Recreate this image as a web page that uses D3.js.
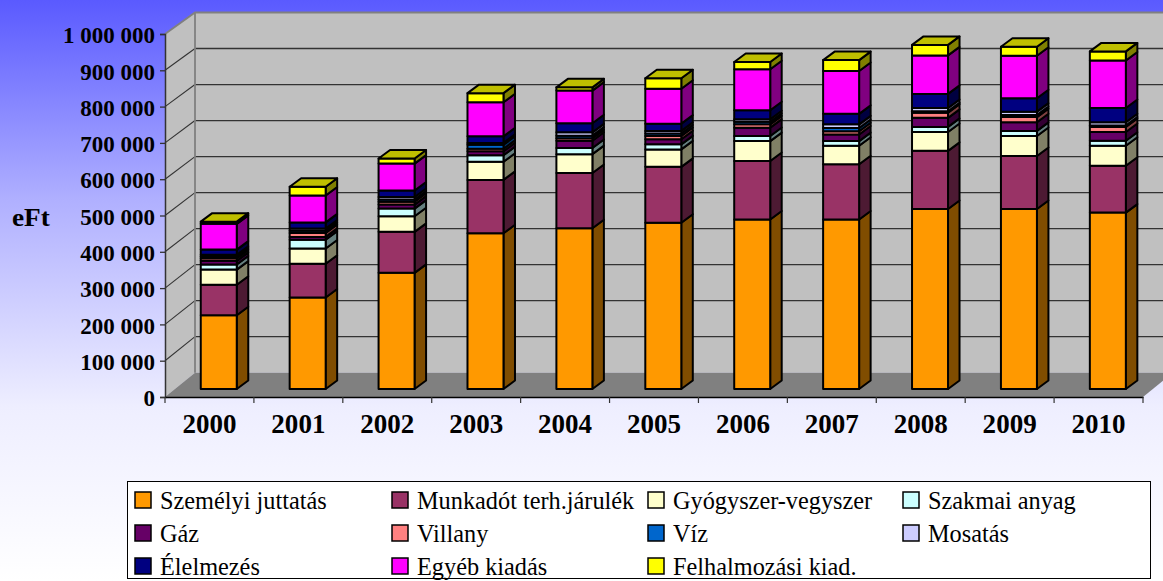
<!DOCTYPE html>
<html>
<head>
<meta charset="utf-8">
<script src="https://cdn.jsdelivr.net/npm/d3@7"></script>
<style>
  html, body { margin: 0; padding: 0; background: #fff; overflow: hidden; }
  text { font-family: "Liberation Serif", serif; fill: #000; }
</style>
</head>
<body>
<div id="graf"></div>
<script>
// Adatok (eFt)
const evek = ['2000', '2001', '2002', '2003', '2004', '2005', '2006', '2007', '2008', '2009', '2010']
const nevek = ['Személyi juttatás', 'Munkadót terh.járulék', 'Gyógyszer-vegyszer', 'Szakmai anyag', 'Gáz', 'Villany', 'Víz', 'Mosatás', 'Élelmezés', 'Egyéb kiadás', 'Felhalmozási kiad.']
const szinek = ['#ff9900', '#993366', '#ffffcc', '#ccffff', '#660066', '#ff8080', '#0066cc', '#ccccff', '#000080', '#ff00ff', '#ffff00']

const szemelyi = [203000, 252000, 320000, 429000, 443000, 458000, 467000, 467000, 496000, 496000, 486000]
const jarulek  = [84000, 93000, 113000, 147000, 152000, 154000, 161000, 152000, 160000, 146000, 129000]
const gyogyszer = [42000, 42000, 43000, 50000, 52000, 48000, 55000, 51000, 52000, 55000, 55000]
const szakmai  = [14000, 24000, 21000, 18000, 17000, 14000, 14000, 13000, 14000, 14000, 14000]
const gaz      = [10000, 8000, 11000, 11000, 20000, 14000, 23000, 18000, 25000, 24000, 24000]
const villany  = [7000, 11000, 8000, 7000, 7000, 9000, 9000, 9000, 14000, 14000, 14000]
const viz      = [5000, 6000, 6000, 11000, 7000, 7000, 7000, 9000, 4000, 6000, 4000]
const mosatas  = [5000, 6000, 7000, 5000, 9000, 7000, 7000, 10000, 9000, 9000, 9000]
const elelmezes = [14000, 17000, 18000, 18000, 25000, 20000, 25000, 29000, 39000, 37000, 39000]
const egyeb    = [71000, 74000, 74000, 94000, 90000, 96000, 113000, 118000, 106000, 117000, 131000]
const felhalm  = [6000, 24000, 14000, 25000, 9000, 29000, 20000, 30000, 29000, 25000, 25000]
const sorozatok = [szemelyi, jarulek, gyogyszer, szakmai, gaz, villany, viz, mosatas, elelmezes, egyeb, felhalm]

const yTicks = [0, 100000, 200000, 300000, 400000, 500000, 600000, 700000, 800000, 900000, 1000000]

const ancho = 1163, alto = 581

const svg = d3.select('#graf').append('svg')
  .attr('width', ancho)
  .attr('height', alto)
  .style('display', 'block')

// Hatter
const grad = svg.append('defs').append('linearGradient')
  .attr('id', 'hatter')
  .attr('x1', 0).attr('y1', 0).attr('x2', 0).attr('y2', 1)
grad.selectAll('stop')
  .data([[0, '#5a5aff'], [0.345, '#b0b0ff'], [0.7, '#eeeeff'], [1, '#ffffff']])
  .join('stop')
  .attr('offset', d => d[0])
  .attr('stop-color', d => d[1])
svg.append('rect')
  .attr('width', ancho)
  .attr('height', alto)
  .attr('fill', 'url(#hatter)')

// Skalak: elso sik, hatso fal, oszlopok sikja
const x = d3.scaleBand().domain(evek).range([165, 1143])
const yElol = d3.scaleLinear().domain([0, 1000000]).range([397, 34])
const yHatul = d3.scaleLinear().domain([0, 1000000]).range([372.7, 12.5])
const yOszlop = d3.scaleLinear().domain([0, 1000000]).range([389, 26])

const melyX = 30          // padlo melysege
const oszlopSz = 36
const oszlopDx = 9.3      // oszlop eltolasa a padlon
const oldalX = 11.5, oldalY = -8.5

// Falak
const poly = pts => 'M' + pts.map(p => p.join(',')).join('L') + 'Z'

svg.append('path')  // hatso fal
  .attr('d', poly([[165 + melyX, yHatul(1000000)], [ancho + 20, yHatul(1000000)], [ancho + 20, yHatul(0)], [165 + melyX, yHatul(0)]]))
  .attr('fill', '#c0c0c0')
svg.append('path')  // bal fal
  .attr('d', poly([[165, yElol(1000000)], [165 + melyX, yHatul(1000000)], [165 + melyX, yHatul(0)], [165, yElol(0)]]))
  .attr('fill', '#c0c0c0')
svg.append('path')  // padlo
  .attr('d', poly([[165, yElol(0)], [165 + melyX, yHatul(0)], [1143 + melyX, yHatul(0)], [1143, yElol(0)]]))
  .attr('fill', '#808080')

// Racsvonalak
const racs = svg.append('g')
racs.selectAll('.hatul')
  .data(yTicks.slice(1, -1))
  .join('line')
  .attr('class', 'hatul')
  .attr('x1', 165 + melyX).attr('x2', ancho + 20)
  .attr('y1', d => yHatul(d)).attr('y2', d => yHatul(d))
  .attr('stroke', '#333').attr('stroke-width', 1.3)
racs.selectAll('.bal')
  .data(yTicks.slice(1, -1))
  .join('line')
  .attr('class', 'bal')
  .attr('x1', 165).attr('x2', 165 + melyX)
  .attr('y1', d => yElol(d)).attr('y2', d => yHatul(d))
  .attr('stroke', '#333').attr('stroke-width', 1.1)

// Fal keretek
svg.append('path')
  .attr('d', `M165,${yElol(1000000)}L195,${yHatul(1000000)}L${ancho + 20},${yHatul(1000000)}M195,${yHatul(1000000)}L195,${yHatul(0)}`)
  .attr('fill', 'none').attr('stroke', '#808080').attr('stroke-width', 1.8)

// Halmozas
const tabla = evek.map((ev, i) => {
  const sor = { ev }
  nevek.forEach((n, j) => { sor[n] = sorozatok[j][i] })
  return sor
})
const halom = d3.stack().keys(nevek)(tabla)

function sotet(c, k) {
  const r = d3.rgb(c)
  return d3.rgb(r.r * k, r.g * k, r.b * k).formatHex()
}

const balX = d => x(d.data.ev) + x.bandwidth() / 2 - oszlopSz / 2 + oszlopDx

const oszlopok = svg.append('g')
  .attr('stroke', '#000')
  .attr('stroke-width', 2)
  .attr('stroke-linejoin', 'round')

halom.forEach((sor, j) => {
  const g = oszlopok.append('g')

  g.selectAll('.oldal').data(sor).join('path')
    .attr('class', 'oldal')
    .attr('fill', sotet(szinek[j], 0.5))
    .attr('d', d => {
      const xj = balX(d) + oszlopSz
      return poly([[xj, yOszlop(d[0])], [xj + oldalX, yOszlop(d[0]) + oldalY], [xj + oldalX, yOszlop(d[1]) + oldalY], [xj, yOszlop(d[1])]])
    })

  g.selectAll('rect').data(sor).join('rect')
    .attr('x', balX)
    .attr('y', d => yOszlop(d[1]))
    .attr('width', oszlopSz)
    .attr('height', d => yOszlop(d[0]) - yOszlop(d[1]))
    .attr('fill', szinek[j])

  if (j == halom.length - 1) {
    g.selectAll('.teto').data(sor).join('path')
      .attr('class', 'teto')
      .attr('fill', sotet(szinek[j], 0.75))
      .attr('d', d => {
        const xb = balX(d), yt = yOszlop(d[1])
        return poly([[xb, yt], [xb + oldalX, yt + oldalY], [xb + oszlopSz + oldalX, yt + oldalY], [xb + oszlopSz, yt]])
      })
  }
})

// Szoveg vizszintes nyujtasa
function nyujt(sel, k) {
  sel.attr('textLength', function () { return this.getComputedTextLength() * k })
     .attr('lengthAdjust', 'spacingAndGlyphs')
}

// Tengelyek
const fmt = d3.formatLocale({ decimal: ',', thousands: ' ', grouping: [3], currency: ['', ' Ft'] }).format(',d')

const ejeY = svg.append('g')
  .attr('transform', 'translate(165,0)')
  .call(d3.axisLeft(yElol).tickValues(yTicks).tickFormat(fmt).tickSize(5).tickPadding(5))
ejeY.select('.domain').attr('stroke', '#333').attr('stroke-width', 1.5)
ejeY.selectAll('.tick line').attr('stroke', '#333').attr('stroke-width', 1.3)
ejeY.selectAll('text')
  .attr('font-family', '"Liberation Serif", serif')
  .attr('font-size', 23)
  .attr('font-weight', 'bold')
  .attr('dy', '0.38em')

const ejeX = svg.append('g')
  .attr('transform', `translate(0,${yElol(0)})`)
  .call(d3.axisBottom(x).tickSize(0).tickPadding(17))
ejeX.select('.domain').attr('stroke', '#000').attr('stroke-width', 1.5)
ejeX.selectAll('text')
  .attr('font-family', '"Liberation Serif", serif')
  .attr('font-size', 26.5)
  .attr('font-weight', 'bold')
  .call(nyujt, 1.02)
// osztasok a kategoriak kozott
ejeX.selectAll('.oszt')
  .data(evek.concat(['vege']))
  .join('line')
  .attr('class', 'oszt')
  .attr('x1', (d, i) => x.range()[0] + i * x.step())
  .attr('x2', (d, i) => x.range()[0] + i * x.step())
  .attr('y1', 0).attr('y2', 6)
  .attr('stroke', '#333').attr('stroke-width', 1.2)

svg.append('text')
  .attr('x', 12).attr('y', 226)
  .attr('font-size', 26)
  .attr('font-weight', 'bold')
  .text('eFt')
  .call(nyujt, 1.05)

// Jelmagyarazat
const lx = [135, 392, 648, 903]
const ly = [492, 525, 558]

svg.append('rect')
  .attr('x', 127.5).attr('y', 481.5)
  .attr('width', 1023).attr('height', 97)
  .attr('fill', '#fff')
  .attr('stroke', '#000').attr('stroke-width', 1)

const leg = svg.selectAll('.leg')
  .data(nevek)
  .join('g')
  .attr('class', 'leg')
  .attr('transform', (d, i) => `translate(${lx[i % 4]},${ly[Math.floor(i / 4)]})`)

leg.append('rect')
  .attr('width', 16).attr('height', 16)
  .attr('fill', (d, i) => szinek[i])
  .attr('stroke', '#000').attr('stroke-width', 1.5)

leg.append('text')
  .attr('x', 25).attr('y', 17)
  .attr('font-size', 24.3)
  .text(d => d)
</script>
</body>
</html>
